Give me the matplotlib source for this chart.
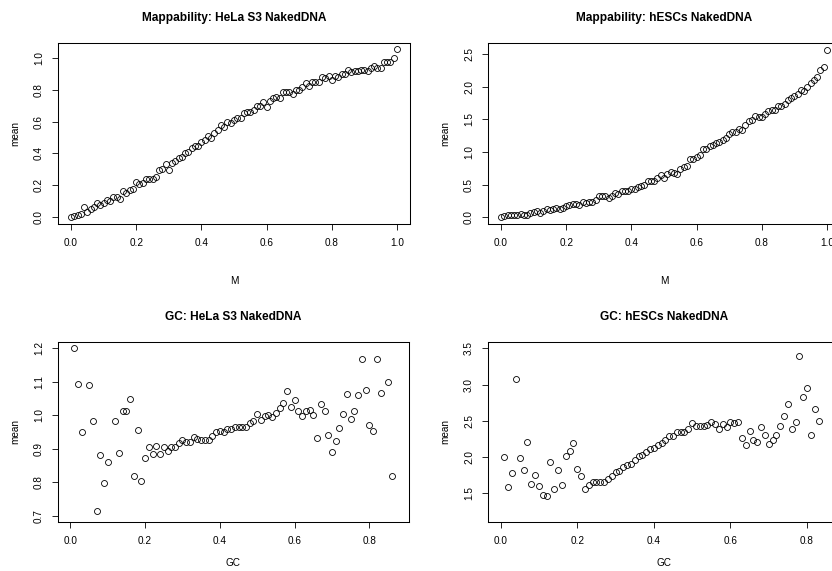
import matplotlib
matplotlib.use("Agg")
import matplotlib.pyplot as plt
from matplotlib.ticker import FixedLocator, FormatStrFormatter

plt.rcParams['font.family'] = ['Liberation Sans', 'DejaVu Sans']

# ---------------- data ----------------
map_x = [i / 100 for i in range(101)]
hela_map = [0.000, 0.004, 0.013, 0.015, 0.059, 0.027, 0.046, 0.063, 0.084, 0.072,
            0.087, 0.103, 0.097, 0.122, 0.127, 0.110, 0.162, 0.148, 0.169, 0.173,
            0.219, 0.207, 0.215, 0.236, 0.241, 0.241, 0.249, 0.297, 0.302, 0.331,
            0.297, 0.342, 0.350, 0.371, 0.378, 0.401, 0.409, 0.435, 0.447, 0.447,
            0.473, 0.481, 0.511, 0.498, 0.527, 0.549, 0.578, 0.565, 0.599, 0.593,
            0.608, 0.622, 0.624, 0.654, 0.662, 0.662, 0.673, 0.700, 0.700, 0.722,
            0.694, 0.728, 0.751, 0.755, 0.747, 0.785, 0.789, 0.785, 0.776, 0.802,
            0.802, 0.819, 0.844, 0.823, 0.852, 0.848, 0.848, 0.882, 0.873, 0.888,
            0.865, 0.890, 0.882, 0.903, 0.903, 0.928, 0.911, 0.918, 0.922, 0.926,
            0.924, 0.920, 0.941, 0.949, 0.941, 0.937, 0.979, 0.979, 0.979, 1.000,
            1.059]
hesc_map = [0.00, 0.02, 0.03, 0.03, 0.04, 0.04, 0.056, 0.04, 0.03, 0.06,
            0.08, 0.09, 0.07, 0.097, 0.12, 0.11, 0.12, 0.15, 0.13, 0.14,
            0.17, 0.19, 0.21, 0.21, 0.19, 0.23, 0.22, 0.23, 0.23, 0.27,
            0.32, 0.32, 0.32, 0.29, 0.33, 0.37, 0.35, 0.41, 0.41, 0.41,
            0.43, 0.44, 0.47, 0.48, 0.50, 0.56, 0.55, 0.56, 0.60, 0.65,
            0.60, 0.66, 0.69, 0.68, 0.66, 0.74, 0.77, 0.79, 0.89, 0.90,
            0.93, 0.96, 1.05, 1.05, 1.09, 1.11, 1.14, 1.16, 1.19, 1.22,
            1.27, 1.30, 1.30, 1.35, 1.34, 1.41, 1.47, 1.49, 1.55, 1.53,
            1.53, 1.58, 1.63, 1.65, 1.64, 1.71, 1.70, 1.74, 1.79, 1.82,
            1.85, 1.88, 1.95, 1.93, 2.00, 2.06, 2.10, 2.15, 2.26, 2.30,
            2.56]

hela_gc_x = [0.01, 0.02, 0.03, 0.05, 0.06, 0.07, 0.08, 0.09, 0.10, 0.12,
             0.13, 0.14, 0.15, 0.16, 0.17, 0.18, 0.19, 0.20, 0.21, 0.22,
             0.23, 0.24, 0.25, 0.26, 0.27, 0.28, 0.29, 0.30, 0.31, 0.32,
             0.33, 0.34, 0.35, 0.36, 0.37, 0.38, 0.39, 0.40, 0.41, 0.42,
             0.43, 0.44, 0.45, 0.46, 0.47, 0.48, 0.49, 0.50, 0.51, 0.52,
             0.53, 0.54, 0.55, 0.56, 0.57, 0.58, 0.59, 0.60, 0.61, 0.62,
             0.63, 0.64, 0.65, 0.66, 0.67, 0.68, 0.69, 0.70, 0.71, 0.72,
             0.73, 0.74, 0.75, 0.76, 0.77, 0.78, 0.79, 0.80, 0.81, 0.82,
             0.83, 0.85, 0.86]
hela_gc = [1.200, 1.095, 0.949, 1.092, 0.984, 0.714, 0.880, 0.797, 0.860, 0.984,
           0.886, 1.012, 1.012, 1.048, 0.817, 0.956, 0.802, 0.872, 0.906, 0.884,
           0.908, 0.884, 0.905, 0.894, 0.906, 0.906, 0.918, 0.925, 0.920, 0.920,
           0.934, 0.930, 0.925, 0.926, 0.926, 0.939, 0.949, 0.953, 0.949, 0.959,
           0.960, 0.965, 0.965, 0.965, 0.965, 0.977, 0.984, 1.004, 0.985, 0.999,
           1.001, 0.995, 1.007, 1.021, 1.036, 1.074, 1.026, 1.046, 1.013, 0.998,
           1.013, 1.016, 1.000, 0.933, 1.033, 1.013, 0.940, 0.889, 0.923, 0.961,
           1.004, 1.064, 0.988, 1.014, 1.060, 1.168, 1.077, 0.970, 0.953, 1.168,
           1.067, 1.100, 0.819]

hesc_gc_x = [0.01, 0.02, 0.03, 0.04, 0.05, 0.06, 0.07, 0.08, 0.09, 0.10,
             0.11, 0.12, 0.13, 0.14, 0.15, 0.16, 0.17, 0.18, 0.19, 0.20,
             0.21, 0.22, 0.23, 0.24, 0.25, 0.26, 0.27, 0.28, 0.29, 0.30,
             0.31, 0.32, 0.33, 0.34, 0.35, 0.36, 0.37, 0.38, 0.39, 0.40,
             0.41, 0.42, 0.43, 0.44, 0.45, 0.46, 0.47, 0.48, 0.49, 0.50,
             0.51, 0.52, 0.53, 0.54, 0.55, 0.56, 0.57, 0.58, 0.59, 0.60,
             0.61, 0.62, 0.63, 0.64, 0.65, 0.66, 0.67, 0.68, 0.69, 0.70,
             0.71, 0.72, 0.73, 0.74, 0.75, 0.76, 0.77, 0.78, 0.79, 0.80,
             0.81, 0.82, 0.83]
hesc_gc = [2.00, 1.59, 1.78, 3.08, 1.98, 1.82, 2.21, 1.63, 1.75, 1.60,
           1.48, 1.46, 1.93, 1.56, 1.82, 1.61, 2.02, 2.08, 2.20, 1.84,
           1.74, 1.56, 1.61, 1.66, 1.66, 1.65, 1.65, 1.70, 1.74, 1.79,
           1.81, 1.86, 1.89, 1.91, 1.96, 2.01, 2.03, 2.07, 2.11, 2.13,
           2.16, 2.20, 2.24, 2.29, 2.29, 2.34, 2.34, 2.34, 2.38, 2.47,
           2.43, 2.43, 2.43, 2.44, 2.49, 2.45, 2.38, 2.46, 2.42, 2.48,
           2.47, 2.49, 2.26, 2.16, 2.36, 2.24, 2.21, 2.41, 2.30, 2.18,
           2.23, 2.31, 2.43, 2.56, 2.73, 2.38, 2.48, 3.39, 2.83, 2.95,
           2.31, 2.66, 2.50]

titles = ["Mappability: HeLa S3 NakedDNA", "Mappability: hESCs NakedDNA",
          "GC: HeLa S3 NakedDNA", "GC: hESCs NakedDNA"]
xlabels = ["M", "M", "GC", "GC"]
ylabel = "mean"
xticks_map = [0.0, 0.2, 0.4, 0.6, 0.8, 1.0]
xticks_gc = [0.0, 0.2, 0.4, 0.6, 0.8]
yticks_list = [[0.0, 0.2, 0.4, 0.6, 0.8, 1.0],
               [0.0, 0.5, 1.0, 1.5, 2.0, 2.5],
               [0.7, 0.8, 0.9, 1.0, 1.1, 1.2],
               [1.5, 2.0, 2.5, 3.0, 3.5]]

# ---------------- layout ----------------
W, H = 832, 571
fig = plt.figure(figsize=(W / 100, H / 100), dpi=100)

def px_axes(x0, y0, x1, y1):
    return fig.add_axes([x0 / W, 1 - y1 / H, (x1 - x0) / W, (y1 - y0) / H])

boxes = [(58, 42.7, 410, 223.7), (488, 42.7, 840, 223.7),
         (58, 341.7, 409, 522.3), (488, 341.7, 840, 522.3)]
xlims = [(-0.04, 1.04), (-0.04, 1.04), (-0.033, 0.906), (-0.033, 0.886)]
ylims = [(-0.044, 1.098), (-0.098, 2.673), (0.680, 1.220), (1.10, 3.591)]
xs = [map_x, map_x, hela_gc_x, hesc_gc_x]
ys = [hela_map, hesc_map, hela_gc, hesc_gc]
xticks = [xticks_map, xticks_map, xticks_gc, xticks_gc]
xlabel_off = [57, 57, 41, 41]

FS = 7.2
for i in range(4):
    b = boxes[i]
    ax = px_axes(*b)
    ax.plot(xs[i], ys[i], linestyle='none', marker='o', markersize=4.3,
            markerfacecolor='none', markeredgecolor='black', markeredgewidth=0.6,
            clip_on=False)
    ax.set_xlim(*xlims[i])
    ax.set_ylim(*ylims[i])
    ax.xaxis.set_major_locator(FixedLocator(xticks[i]))
    ax.yaxis.set_major_locator(FixedLocator(yticks_list[i]))
    ax.xaxis.set_major_formatter(FormatStrFormatter('%.1f'))
    ax.yaxis.set_major_formatter(FormatStrFormatter('%.1f'))
    for s in ax.spines.values():
        s.set_linewidth(0.75)
    ax.tick_params(axis='both', length=4, width=0.6, labelsize=FS, colors='black')
    ax.tick_params(axis='x', pad=6)
    ax.tick_params(axis='y', pad=6)
    for lab in ax.get_yticklabels():
        lab.set_rotation(90)
        lab.set_va('center')
    ax.set_title(titles[i], fontsize=8.6, fontweight='bold', pad=15.5)
    hpx = b[3] - b[1]
    wpx = b[2] - b[0]
    ax.set_xlabel(xlabels[i], fontsize=FS)
    ax.xaxis.set_label_coords(0.5, -xlabel_off[i] / hpx)
    ax.xaxis.label.set_va('center')
    ax.set_ylabel(ylabel, fontsize=FS)
    ax.yaxis.set_label_coords(-43 / wpx, 0.5)
    ax.yaxis.label.set_va('center')

fig.savefig("out.png", dpi=100)
